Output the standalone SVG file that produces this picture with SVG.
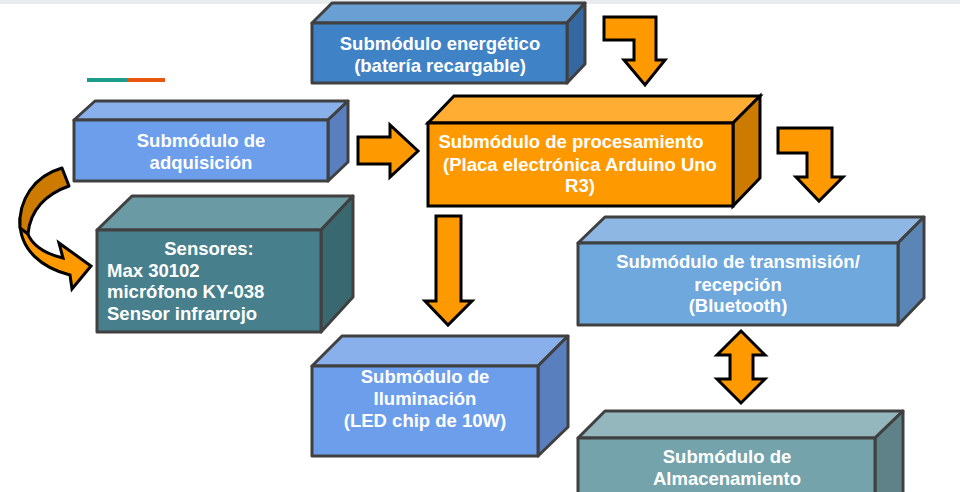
<svg xmlns="http://www.w3.org/2000/svg" width="960" height="492" viewBox="0 0 960 492">
<defs>
<style>
.t{font-family:"Liberation Sans",Arial,sans-serif;font-weight:bold;font-size:18.5px;fill:#ffffff;text-anchor:middle}
.ts{text-anchor:start}
.b{stroke:#404040;stroke-width:3;stroke-linejoin:round}
.o{stroke:#000000;stroke-width:3;stroke-linejoin:miter}
.arr{fill:#ff9900;stroke:#000000;stroke-width:3;stroke-linejoin:miter}
</style>
</defs>
<rect x="0" y="0" width="960" height="492" fill="#ffffff"/>
<rect x="0" y="0" width="960" height="4" fill="#e8ecee"/>
<g id="deco">
<rect x="87" y="78" width="40" height="4" fill="#1a9e8a"/>
<rect x="127" y="78" width="38" height="4" fill="#e8580c"/>
</g>
<g id="energetico">
<polygon class="b" points="312,23 332,3 585,3 567,23" fill="#6a9fd4"/>
<polygon class="b" points="567,23 585,3 585,64 567,83" fill="#3568a0"/>
<rect class="b" x="312" y="23" width="255" height="60" fill="#3f83c6"/>
<text class="t" x="440" y="50">Submódulo energético</text>
<text class="t" x="440" y="72">(batería recargable)</text>
</g>
<g id="adquisicion">
<polygon class="b" points="74,120 95,101 348,101 328,120" fill="#8ab0ec"/>
<polygon class="b" points="328,120 348,101 348,162 328,181" fill="#5a7fbf"/>
<rect class="b" x="74" y="120" width="254" height="61" fill="#6d9eeb"/>
<text class="t" x="201" y="147">Submódulo de</text>
<text class="t" x="201" y="169">adquisición</text>
</g>
<g id="procesamiento">
<polygon class="o" points="428,123 454,96 760,96 733,123" fill="#ffad33"/>
<polygon class="o" points="733,123 760,96 760,178 733,206" fill="#cc7a00"/>
<rect class="o" x="428" y="123" width="305" height="83" fill="#ff9900"/>
<text class="t" x="571" y="148">Submódulo de procesamiento</text>
<text class="t" x="580" y="171">(Placa electrónica Arduino Uno</text>
<text class="t" x="580" y="192">R3)</text>
</g>
<g id="sensores">
<polygon class="b" points="97,230 132,196 353,196 321,230" fill="#6a9aa3"/>
<polygon class="b" points="321,230 353,196 353,297 321,332" fill="#3a6870"/>
<rect class="b" x="97" y="230" width="224" height="102" fill="#47808c"/>
<text class="t" x="209" y="255">Sensores:</text>
<text class="t ts" x="107" y="277">Max 30102</text>
<text class="t ts" x="107" y="298">micrófono KY-038</text>
<text class="t ts" x="107" y="320">Sensor infrarrojo</text>
</g>
<g id="transmision">
<polygon class="b" points="578,243 605,217 924,217 898,243" fill="#8eb8e3"/>
<polygon class="b" points="898,243 924,217 924,298 898,325" fill="#5a86b5"/>
<rect class="b" x="578" y="243" width="320" height="82" fill="#6fa8dc"/>
<text class="t" x="738" y="268">Submódulo de transmisión/</text>
<text class="t" x="738" y="291">recepción</text>
<text class="t" x="738" y="312">(Bluetooth)</text>
</g>
<g id="iluminacion">
<polygon class="b" points="312,366 342,336 568,336 538,366" fill="#8ab0ec"/>
<polygon class="b" points="538,366 568,336 568,427 538,456" fill="#5a7fbf"/>
<rect class="b" x="312" y="366" width="226" height="90" fill="#6d9eeb"/>
<text class="t" x="425" y="383">Submódulo de</text>
<text class="t" x="425" y="405">Iluminación</text>
<text class="t" x="425" y="427">(LED chip de 10W)</text>
</g>
<g id="almacenamiento">
<polygon class="b" points="578,438 605,411 903,411 875,438" fill="#93b7bd"/>
<polygon class="b" points="875,438 903,411 903,500 875,520" fill="#5e8288"/>
<rect class="b" x="578" y="438" width="297" height="80" fill="#74a3ab"/>
<text class="t" x="727" y="463">Submódulo de</text>
<text class="t" x="727" y="485">Almacenamiento</text>
</g>
<g id="connectors">
<polygon class="arr" points="604,17 656,17 656,60 665,60 645,85 624,60 634,60 634,40 604,40"/>
<polygon class="arr" points="358,137 390,137 390,125 418,151 390,177 390,164 358,164"/>
<polygon class="arr" points="778,128 832,128 832,177 843,177 819,201 796,177 807,177 807,153 778,153"/>
<polygon class="arr" points="436,216 461,216 461,301 472,301 448,325 425,301 436,301"/>
<polygon class="arr" points="741,331 765,355 753,355 753,379 765,379 741,403 717,379 730,379 730,355 717,355"/>
<path class="arr" d="M20,222 C20,250 42,268 70,275 L72,289 L91,266 L59,243 L63,258 C46,254 32,246 27,232 Z"/>
<path d="M62,168 L69,186 C46,194 30,210 28,234 L20,228 C18,200 34,176 62,168 Z" fill="#cc7a00" stroke="#000000" stroke-width="3" stroke-linejoin="round"/>
</g>
</svg>
